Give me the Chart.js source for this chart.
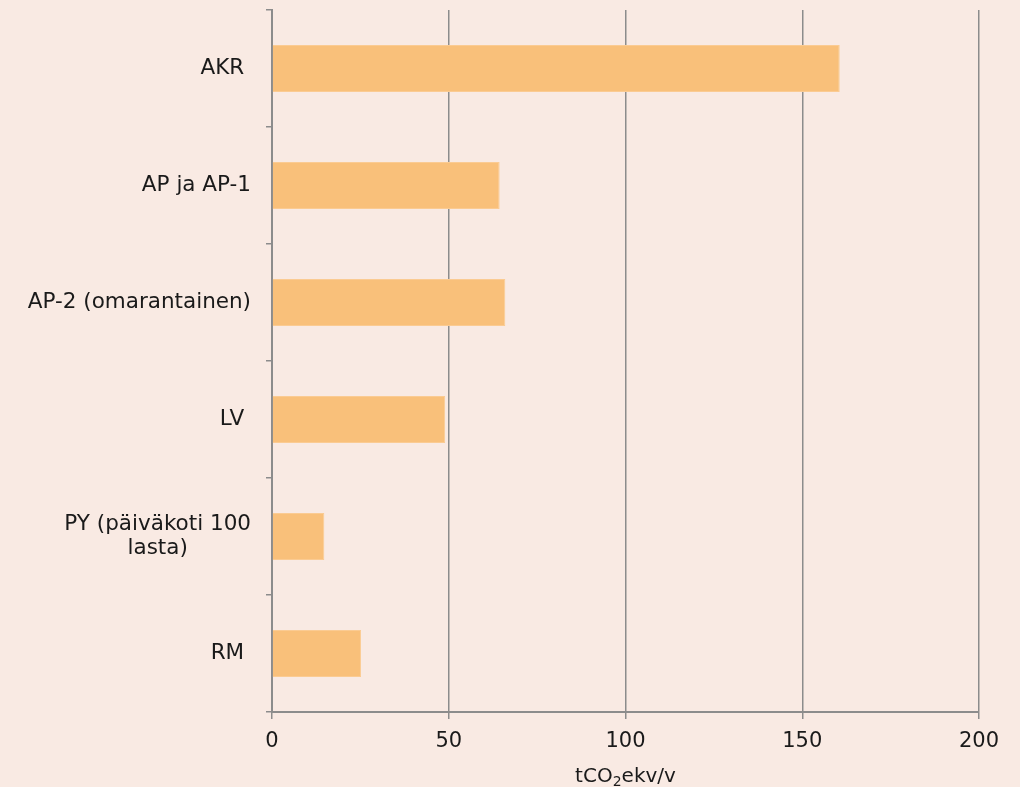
<!DOCTYPE html>
<html lang="fi">
<head>
<meta charset="utf-8">
<title>Päästöt kohteittain</title>
<script src="https://cdn.jsdelivr.net/npm/chart.js@4/dist/chart.umd.min.js"></script>
<style>
    html, body { margin: 0; padding: 0; background: #F9EAE3; }
    #wrap { position: relative; width: 1020px; height: 787px; }
</style>
</head>
<body>
<div id="wrap"><canvas id="emissionChart" width="1020" height="787"></canvas></div>
<script>
// --- DATA ---
const categories = [
    'AKR ',
    'AP ja AP-1',
    'AP-2 (omarantainen)',
    'LV ',
    ['PY (päiväkoti 100', 'lasta)'],
    'RM '
];
const emissions = [160.6, 64.4, 66.0, 49.0, 14.8, 25.2];
const xTicks = [0, 50, 100, 150, 200];
// unit title pieces: main text, subscript, rest
const xTitle = ['tCO', '2', 'ekv/v'];

const FONT = '"DejaVu Sans", Verdana, sans-serif';
const GRID = '#8c8c8c';
const INK = '#1a1a1a';

// category labels: right-aligned block, wrapped lines centred inside it
// plus the axis unit with a real subscript
const customText = {
    id: 'customText',
    afterDraw(chart) {
        const ctx = chart.ctx;
        const y = chart.scales.y;
        const x = chart.scales.x;
        const right = 251;
        const lineH = 24;
        ctx.save();
        ctx.font = '21.5px ' + FONT;
        ctx.fillStyle = INK;
        ctx.textAlign = 'center';
        ctx.textBaseline = 'middle';
        categories.forEach((label, i) => {
            const lines = Array.isArray(label) ? label : [label];
            const widest = Math.max(...lines.map(l => ctx.measureText(l).width));
            const cx = right - widest / 2;
            const cy = y.getPixelForTick(i);
            lines.forEach((l, k) => {
                ctx.fillText(l, cx, cy + (k - (lines.length - 1) / 2) * lineH);
            });
        });

        // axis title
        const big = '20px ' + FONT, small = '14px ' + FONT;
        ctx.textAlign = 'left';
        ctx.textBaseline = 'alphabetic';
        ctx.font = big;
        const w1 = ctx.measureText(xTitle[0]).width;
        const w3 = ctx.measureText(xTitle[2]).width;
        ctx.font = small;
        const w2 = ctx.measureText(xTitle[1]).width;
        const cx = (x.left + x.right) / 2;
        let px = cx - (w1 + w2 + w3) / 2;
        const base = 782;
        ctx.font = big;
        ctx.fillText(xTitle[0], px, base);
        px += w1;
        ctx.font = small;
        ctx.fillText(xTitle[1], px, base + 4);
        px += w2;
        ctx.font = big;
        ctx.fillText(xTitle[2], px, base);
        ctx.restore();
    }
};

const ctx = document.getElementById('emissionChart').getContext('2d');
new Chart(ctx, {
    type: 'bar',
    data: {
        labels: categories,
        datasets: [{
            data: emissions,
            backgroundColor: '#F9C07A',
            borderColor: '#FBCB92',
            borderWidth: 1,
            barPercentage: 0.4,
            categoryPercentage: 1.0
        }]
    },
    options: {
        indexAxis: 'y',
        responsive: false,
        animation: false,
        layout: { padding: { top: 10, right: 41, left: 0, bottom: 0 } },
        plugins: {
            legend: { display: false },
            tooltip: { enabled: false }
        },
        scales: {
            x: {
                min: 0,
                max: 200,
                afterBuildTicks: scale => { scale.ticks = xTicks.map(v => ({ value: v })); },
                grid: { color: GRID, lineWidth: 1.5, tickLength: 7, drawTicks: true },
                border: { color: GRID, width: 2 },
                ticks: { color: INK, font: { family: FONT, size: 21 }, padding: 10, maxRotation: 0 },
                title: { display: false },
                afterFit: scale => { scale.height = 75; }
            },
            y: {
                offset: true,
                grid: { offset: true, drawOnChartArea: false, drawTicks: true, tickLength: 6, color: GRID, lineWidth: 1.5 },
                border: { color: GRID, width: 2 },
                // labels are painted by customText, these only reserve no space
                ticks: { color: 'rgba(0,0,0,0)', font: { family: FONT, size: 1 }, padding: 0 },
                afterFit: scale => { scale.width = 272; }
            }
        }
    },
    plugins: [customText]
});
</script>
</body>
</html>
